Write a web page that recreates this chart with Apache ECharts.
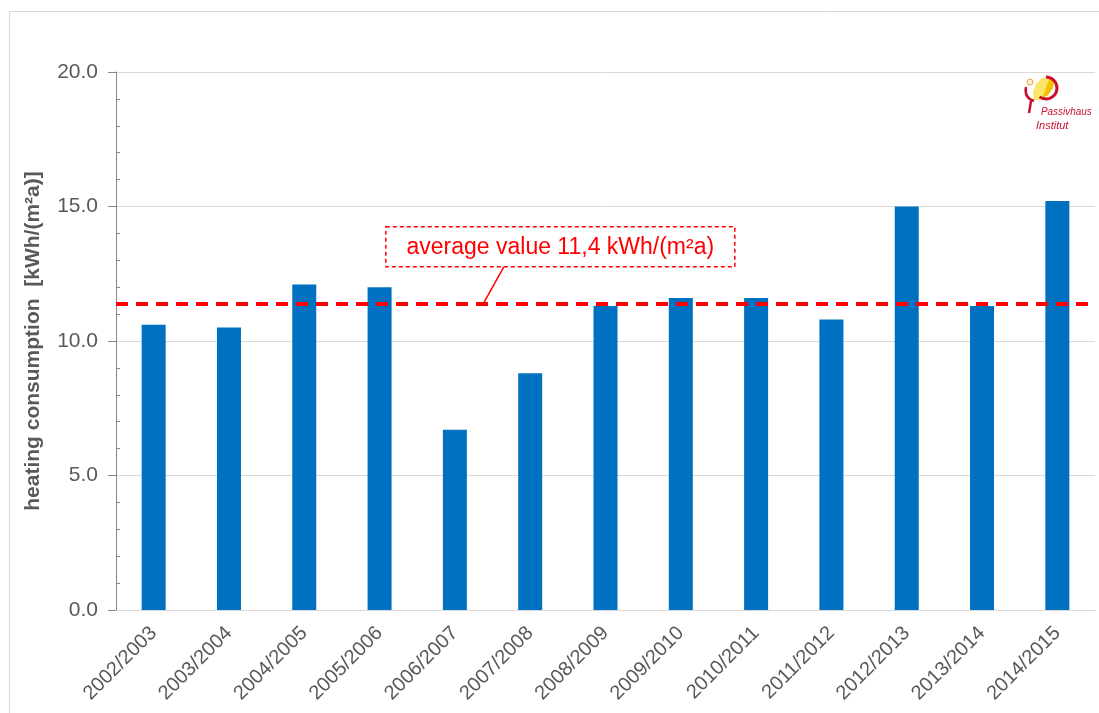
<!DOCTYPE html>
<html lang="en">
<head>
    <meta charset="UTF-8">
    <title>Heating consumption</title>
    <style>
        * { padding: 0; margin: 0; }
        body { background: #fff; }
        .EC { width: 1099px; height: 713px; }
    </style>
    <script src="https://cdn.jsdelivr.net/npm/echarts@6/dist/echarts.min.js"></script>
</head>
<body>
<div class="EC"></div>
<script>
    // heating periods
    const seasons = ['2002/2003', '2003/2004', '2004/2005', '2005/2006', '2006/2007', '2007/2008',
        '2008/2009', '2009/2010', '2010/2011', '2011/2012', '2012/2013', '2013/2014', '2014/2015']
    // kWh/(m²a)
    const consumption = [10.6, 10.5, 12.1, 12.0, 6.7, 8.8, 11.3, 11.6, 11.6, 10.8, 15.0, 11.3, 15.2]
    const average = 11.4
    const avgLabel = 'average value 11,4 kWh/(m²a)'
    // where the callout sits (category index, value) and where its leader hits the line
    const calloutAt = [5.4, 13.5]
    const leaderFrom = 4.65
    const leaderTo = 4.38

    const font = '"Liberation Sans", Arial, sans-serif'
    const grey = '#595959'

    let EC = echarts.init(document.querySelector('.EC'))
    let option = {
        backgroundColor: '#fff',
        animation: false,
        grid: { left: 116, right: 4, top: 72, bottom: 103 },
        xAxis: {
            type: 'category',
            data: seasons,
            axisLine: { lineStyle: { color: '#d9d9d9', width: 1 } },
            axisTick: { show: false },
            axisLabel: {
                rotate: 45,
                interval: 0,
                margin: 20,
                color: grey,
                fontSize: 20,
                fontFamily: font
            }
        },
        yAxis: [
            {
                type: 'value',
                min: 0,
                max: 20,
                interval: 5,
                name: 'heating consumption  [kWh/(m²a)]',
                nameLocation: 'middle',
                nameGap: 72,
                nameTextStyle: { color: grey, fontSize: 21, fontWeight: 'bold', fontFamily: font },
                axisLine: { show: true, lineStyle: { color: '#868686' } },
                axisTick: { show: true, length: 8, lineStyle: { color: '#868686' } },
                axisLabel: {
                    color: grey,
                    fontSize: 21,
                    fontFamily: font,
                    margin: 18,
                    formatter: v => v.toFixed(1)
                },
                splitLine: { lineStyle: { color: '#d9d9d9' } }
            },
            {
                // minor ticks on the inside of the axis
                type: 'value',
                position: 'left',
                min: 0,
                max: 20,
                interval: 5,
                axisLine: { show: false },
                axisTick: { show: false, inside: true },
                minorTick: { show: true, splitNumber: 5, length: 4, lineStyle: { color: '#868686' } },
                axisLabel: { show: false },
                splitLine: { show: false }
            }
        ],
        series: [{
            type: 'bar',
            data: consumption,
            barWidth: 24,
            itemStyle: { color: '#0070c0' },
            markLine: {
                silent: true,
                symbol: 'none',
                label: { show: false },
                lineStyle: { color: '#ff0000', type: [12, 8], width: 4 },
                data: [{ yAxis: average }]
            }
        }]
    }
    EC.setOption(option)

    // pixel position for a fractional category index
    function toPx(idx, val) {
        let i = Math.floor(idx)
        let a = EC.convertToPixel({ gridIndex: 0 }, [i, val])
        let b = EC.convertToPixel({ gridIndex: 0 }, [i + 1, val])
        return [a[0] + (b[0] - a[0]) * (idx - i), a[1]]
    }

    // callout + logo
    let box = toPx(calloutAt[0], calloutAt[1])
    let boxW = 349, boxH = 40
    let boxBottom = box[1] + boxH / 2
    let from = toPx(leaderFrom, average)
    let hit = toPx(leaderTo, average)
    EC.setOption({
        graphic: [
            {
                type: 'rect',
                shape: { x: 9.5, y: 11.5, width: 1100, height: 720 },
                style: { fill: 'none', stroke: '#d9d9d9', lineWidth: 1 },
                silent: true
            },
            {
                type: 'line',
                shape: { x1: from[0], y1: boxBottom, x2: hit[0], y2: hit[1] },
                style: { stroke: '#ff0000', lineWidth: 1.5 },
                z: 100
            },
            {
                type: 'rect',
                shape: { x: box[0] - boxW / 2, y: box[1] - boxH / 2, width: boxW, height: boxH },
                style: { fill: '#fff', stroke: '#ff0000', lineWidth: 1.5, lineDash: [4, 3] },
                z: 100
            },
            {
                type: 'text',
                x: box[0],
                y: box[1] + 1,
                style: {
                    text: avgLabel,
                    fill: '#ff0000',
                    font: '23px ' + font,
                    align: 'center',
                    verticalAlign: 'middle'
                },
                z: 101
            },
            // Passivhaus Institut logo
            {
                type: 'group',
                x: 1020,
                y: 72,
                children: [
                    {
                        type: 'polygon',
                        shape: { points: [[14, 28], [13, 20], [16, 12], [22, 6], [30, 5], [34, 9], [33, 16], [28, 23], [20, 28]] },
                        style: { fill: '#fbe66a' }
                    },
                    {
                        type: 'polygon',
                        shape: { points: [[22, 27], [26, 16], [30, 5], [34, 9], [33, 16], [28, 23]] },
                        style: { fill: '#f4c000' }
                    },
                    {
                        type: 'arc',
                        shape: { cx: 26, cy: 16, r: 11, startAngle: -Math.PI * 0.5, endAngle: Math.PI * 0.7 },
                        style: { fill: 'none', stroke: '#c8102e', lineWidth: 3 }
                    },
                    {
                        type: 'bezierCurve',
                        shape: { x1: 6, y1: 15, cpx1: 4, cpy1: 26, x2: 14, y2: 29 },
                        style: { fill: 'none', stroke: '#c8102e', lineWidth: 2.5 }
                    },
                    {
                        type: 'line',
                        shape: { x1: 11, y1: 29, x2: 9, y2: 41 },
                        style: { stroke: '#c8102e', lineWidth: 2.5 }
                    },
                    {
                        type: 'circle',
                        shape: { cx: 10, cy: 10, r: 3 },
                        style: { fill: '#fdefc0', stroke: '#f0a050', lineWidth: 1 }
                    },
                    {
                        type: 'text',
                        x: 21,
                        y: 34,
                        scaleX: 0.9,
                        style: { text: 'Passivhaus', fill: '#c8102e', font: 'italic 11px ' + font }
                    },
                    {
                        type: 'text',
                        x: 16,
                        y: 48,
                        style: { text: 'Institut', fill: '#c8102e', font: 'italic 11px ' + font }
                    }
                ]
            }
        ]
    })
</script>
</body>
</html>
